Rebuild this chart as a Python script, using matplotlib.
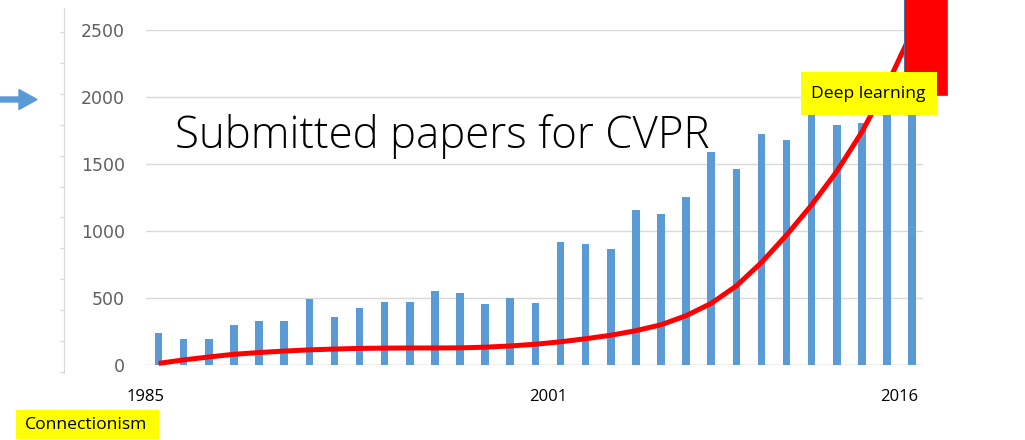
import numpy as np
import matplotlib
matplotlib.use("Agg")
import matplotlib.pyplot as plt
from matplotlib.patches import Rectangle, FancyArrow

# submitted papers per year (bars) and the red trend line
submissions = [241, 192, 192, 298, 328, 328, 492, 356, 425, 472, 472, 550, 540, 453, 502, 463,
               916, 905, 868, 1157, 1127, 1251, 1590, 1465, 1724, 1677, 1930, 1791, 1803, 2120, 2145]
trend = [12, 38, 60, 80, 93, 104, 113, 119, 124, 126, 127, 127, 128, 133, 142, 155,
         173, 196, 222, 256, 300, 368, 460, 590, 765, 970, 1195, 1445, 1740, 2090, 2490]
tick_idx = [0, 16, 30]
tick_labels = ['1985', '2001', '2016']
y_ticks = [0, 500, 1000, 1500, 2000, 2500]

W, H = 1025, 440
fig = plt.figure(figsize=(W / 100, H / 100), dpi=100)
fig.patch.set_facecolor('white')

ax = fig.add_axes([146 / W, 1 - 365 / H, (923 - 146) / W, (365 - 30) / H])
x = np.arange(len(submissions))
ax.bar(x, submissions, width=0.3, color='#5B9BD5', zorder=2)
ax.plot(x, trend, color='#FF0000', lw=3.6, solid_capstyle='butt', solid_joinstyle='round',
        zorder=3, clip_on=False)

ax.set_xlim(-0.437, 30.43)
ax.set_ylim(0, 2500)
ax.set_yticks(y_ticks)
ax.set_yticklabels([str(v) for v in y_ticks], color='#606060', fontsize=12.5, family='DejaVu Sans')
ax.set_xticks(np.array(tick_idx) - 0.5)
ax.set_xticklabels(tick_labels, fontsize=12, family='Open Sans', color='black')
ax.tick_params(axis='y', length=0, pad=15)
ax.tick_params(axis='x', length=0, pad=17)
ax.grid(axis='y', color='#D9D9D9', lw=1, zorder=0)
for s in ax.spines.values():
    s.set_visible(False)
ax.axhline(0, color='#D9D9D9', lw=1, zorder=1)

# thin decorative axis line on the far left with small ticks
ax2 = fig.add_axes([64 / W, 1 - 373 / H, 0.001, (373 - 8) / H])
ax2.set_ylim(0, 365)
ax2.set_xticks([])
ax2.set_yticks(np.linspace(1, 341, 12))
ax2.set_yticklabels([])
ax2.tick_params(axis='y', length=3, color='#D9D9D9', width=1)
for k, s in ax2.spines.items():
    s.set_visible(k == 'left')
ax2.spines['left'].set_color('#D9D9D9')
ax2.patch.set_alpha(0)

# title
fig.text(175 / W, 1 - 148 / H, 'Submitted papers for CVPR', fontsize=31.6, family='Open Sans',
         fontweight='light', va='baseline', ha='left', color='black')

# blue arrow on the left
fig.patches.append(FancyArrow(0, 1 - 99.5 / H, 37 / W, 0, width=5 / H, head_width=20 / H,
                              head_length=18 / W, length_includes_head=True,
                              color='#5B9BD5', transform=fig.transFigure, figure=fig))

# red block top right
fig.patches.append(Rectangle((904 / W, 1 - 95 / H), 43 / W, 95 / H + 0.01, facecolor='#FF0000',
                             edgecolor='#41719C', lw=0.8, transform=fig.transFigure, figure=fig, zorder=5))

# yellow labels
fig.patches.append(Rectangle((801 / W, 1 - 115 / H), 136 / W, 43 / H, facecolor='#FFFF00',
                             edgecolor='none', transform=fig.transFigure, figure=fig, zorder=6))
fig.text(811 / W, 1 - 93.5 / H, 'Deep learning', fontsize=12.6, family='Open Sans',
         va='center', ha='left', zorder=7)
fig.patches.append(Rectangle((15.7 / W, 1 - 439 / H), 143.3 / W, 29 / H, facecolor='#FFFF00',
                             edgecolor='none', transform=fig.transFigure, figure=fig, zorder=6))
fig.text(25 / W, 1 - 425 / H, 'Connectionism', fontsize=12.6, family='Open Sans',
         va='center', ha='left', zorder=7)

fig.savefig('out.png', dpi=100)
